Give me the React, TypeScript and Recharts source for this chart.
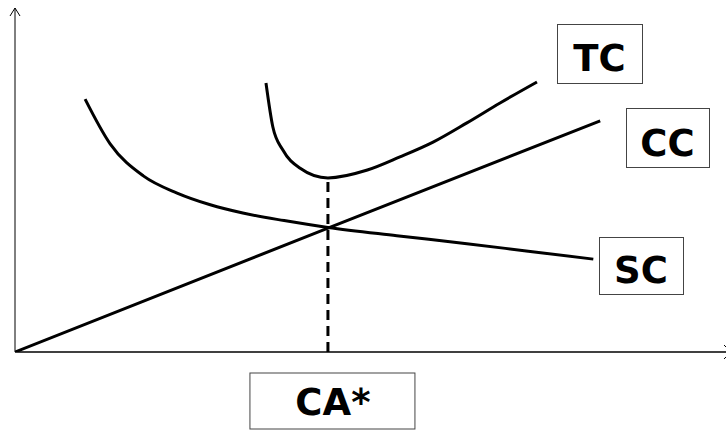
import { LineChart, Line, XAxis, YAxis, ReferenceDot } from "recharts";

// curves (arbitrary units, no ticks on the original)
const ccCurve = [
  { x: 0, y: 0 },
  { x: 5, y: 3.6 },
  { x: 9.35, y: 6.72 },
];

const scCurve = [
  { x: 1.12, y: 7.35 },
  { x: 1.52, y: 6.05 },
  { x: 2.05, y: 5.12 },
  { x: 2.59, y: 4.62 },
  { x: 3.12, y: 4.28 },
  { x: 3.64, y: 4.04 },
  { x: 4.3, y: 3.82 },
  { x: 5, y: 3.62 },
  { x: 6.1, y: 3.38 },
  { x: 7.22, y: 3.15 },
  { x: 8.2, y: 2.93 },
  { x: 9.24, y: 2.7 },
];

const tcCurve = [
  { x: 4.01, y: 7.82 },
  { x: 4.12, y: 6.54 },
  { x: 4.28, y: 5.87 },
  { x: 4.55, y: 5.35 },
  { x: 5, y: 5.06 },
  { x: 5.63, y: 5.29 },
  { x: 6.15, y: 5.67 },
  { x: 6.68, y: 6.1 },
  { x: 7.22, y: 6.66 },
  { x: 7.75, y: 7.24 },
  { x: 8.34, y: 7.85 },
];

const optimumDrop = [
  { x: 5, y: 0 },
  { x: 5, y: 5.06 },
];

const xTicks = [5];
const xTickLabels = ["CA*"];
const curveLabels = ["TC", "CC", "SC"];

const X_MAX = 11.36;
const Y_MAX = 10;

const font = { fontFamily: "DejaVu Sans", fontWeight: 700, fontSize: 37 };

// box placement for the curve labels (pixels)
const labelBoxes = [
  { x: 557, y: 24, w: 85, h: 59, base: 71 },
  { x: 626, y: 108, w: 83, h: 59, base: 156 },
  { x: 599, y: 237, w: 84, h: 57, base: 283 },
];

const CaTick = (props: any) => {
  const { x, y, payload } = props;
  const label = xTickLabels[xTicks.indexOf(payload.value)];
  return (
    <g>
      <rect x={x - 78} y={y + 21} width={165} height={56} fill="#fff" stroke="#444" strokeWidth={1} />
      <text x={x + 5} y={y + 63} textAnchor="middle" fill="#000" {...font}>
        {label}
      </text>
    </g>
  );
};

const UpArrow = (props: any) => (
  <path d={`M${props.cx - 5},${props.cy + 8} L${props.cx},${props.cy} L${props.cx + 5},${props.cy + 8}`} fill="none" stroke="#000" strokeWidth={1} />
);

const RightArrow = (props: any) => (
  <path d={`M${props.cx - 2},${props.cy - 7} L${props.cx + 5},${props.cy} L${props.cx - 2},${props.cy + 7}`} fill="none" stroke="#000" strokeWidth={1} />
);

export default function App() {
  return (
    <div style={{ position: "absolute", left: 0, top: 0, width: 726, height: 430, background: "#fff" }}>
      <LineChart width={726} height={430} margin={{ top: 8, right: 0, bottom: 0, left: 0 }}>
        <XAxis
          dataKey="x"
          type="number"
          domain={[0, X_MAX]}
          allowDataOverflow
          ticks={xTicks}
          tick={<CaTick />}
          tickLine={false}
          tickSize={0}
          tickMargin={0}
          height={78}
          axisLine={{ stroke: "#000", strokeWidth: 1.5 }}
        />
        <YAxis
          type="number"
          domain={[0, Y_MAX]}
          allowDataOverflow
          width={15}
          tick={false}
          tickLine={false}
          axisLine={{ stroke: "#000", strokeWidth: 1 }}
        />
        <Line data={ccCurve} dataKey="y" type="linear" stroke="#000" strokeWidth={3} dot={false} isAnimationActive={false} />
        <Line data={scCurve} dataKey="y" type="monotone" stroke="#000" strokeWidth={3} dot={false} isAnimationActive={false} />
        <Line data={tcCurve} dataKey="y" type="monotone" stroke="#000" strokeWidth={3} dot={false} isAnimationActive={false} />
        <Line data={optimumDrop} dataKey="y" type="linear" stroke="#000" strokeWidth={3} strokeDasharray="10 6" dot={false} isAnimationActive={false} />
        <ReferenceDot x={0} y={Y_MAX} ifOverflow="visible" shape={<UpArrow />} />
        <ReferenceDot x={X_MAX} y={0} ifOverflow="visible" shape={<RightArrow />} />
      </LineChart>
      <svg width={726} height={430} style={{ position: "absolute", left: 0, top: 0, pointerEvents: "none" }}>
        {curveLabels.map((name, i) => {
          const b = labelBoxes[i];
          return (
            <g key={name}>
              <rect x={b.x + 0.5} y={b.y + 0.5} width={b.w} height={b.h} fill="#fff" stroke="#444" strokeWidth={1} />
              <text x={b.x + b.w / 2} y={b.base} textAnchor="middle" fill="#000" {...font}>
                {name}
              </text>
            </g>
          );
        })}
      </svg>
    </div>
  );
}
